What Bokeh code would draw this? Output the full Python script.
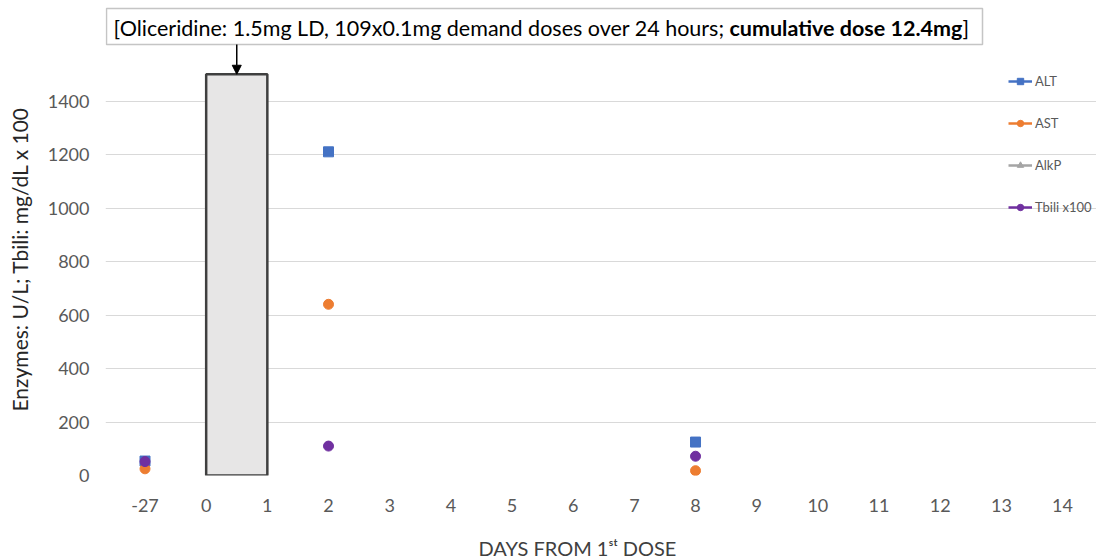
import math
from bokeh.plotting import figure
from bokeh.models import (Range1d, FixedTicker, Label, BoxAnnotation, Arrow,
                          NormalHead, Legend, LegendItem, Title)
from bokeh.embed import file_html
from bokeh.resources import INLINE

# ---------------- data ----------------
day_labels = ["-27", "0", "1", "2", "3", "4", "5", "6", "7", "8",
              "9", "10", "11", "12", "13", "14"]
sample_days = ["-27", "2", "8"]
alt = [54, 1210, 125]
ast = [25, 640, 18]
alkp = [float("nan"), float("nan"), float("nan")]
tbili = [52, 110, 72]
dose_start = "0"
dose_end = "1"
dose_top = 1500
y_ticks = [0, 200, 400, 600, 800, 1000, 1200, 1400]

idx = {d: i for i, d in enumerate(day_labels)}
xs = [idx[d] for d in sample_days]

# ---------------- layout helpers (canvas px -> data) ----------------
W, H = 1096, 559
FL, FB = 105, 475                # frame left / bottom in canvas px
X0, DX = 144.5, 61.17            # canvas x of first category, spacing
DY = 0.2675                      # px per y unit


def px2x(px):
    return (px - X0) / DX


def py2y(py):
    return (FB - py) / DY


FONT = "Lato"

p = figure(width=W, height=H, output_backend="svg", toolbar_location=None,
           x_range=Range1d(px2x(FL), px2x(W)), y_range=Range1d(0, py2y(0)),
           min_border_left=FL, min_border_right=0, min_border_top=0,
           min_border_bottom=H - FB)
p.outline_line_color = None
p.background_fill_color = "white"

# axes
p.xaxis.ticker = FixedTicker(ticks=list(range(len(day_labels))))
p.xaxis.major_label_overrides = {i: d for i, d in enumerate(day_labels)}
p.yaxis.ticker = FixedTicker(ticks=y_ticks)
for ax in (p.xaxis, p.yaxis):
    ax.axis_line_color = None
    ax.major_tick_line_color = None
    ax.minor_tick_line_color = None
    ax.major_label_text_font = FONT
    ax.major_label_text_font_size = "18px"
    ax.major_label_text_color = "#595959"
p.xaxis.major_label_standoff = 17
p.yaxis.major_label_standoff = 10
p.xgrid.grid_line_color = None
p.ygrid.grid_line_color = "#D9D9D9"
p.ygrid.grid_line_width = 1

# axis titles (with blank spacer panels between axis and title)
p.add_layout(Title(text=" ", text_font_size="1px", standoff=6), "left")
p.add_layout(Title(text="Enzymes: U/L; Tbili: mg/dL x 100", align="left",
                   offset=FB - 411, text_font=FONT, text_font_size="21px",
                   text_font_style="normal", text_color="#262626", standoff=8),
             "left")
p.add_layout(Title(text=" ", text_font_size="1px", standoff=16), "below")
p.add_layout(Title(text="DAYS FROM 1\u02e2\u1d57 DOSE", align="left",
                   offset=478 - FL, text_font=FONT, text_font_size="20px",
                   text_font_style="normal", text_color="#404040", standoff=0),
             "below")

# dosing period box
p.quad(left=[idx[dose_start]], right=[idx[dose_end]], bottom=[0], top=[dose_top],
       fill_color="#E7E6E6", line_color="#3F3F3F", line_width=2.5)

# series
series = [
    ("ALT", alt, "#4472C4", "square", 10),
    ("AST", ast, "#ED7D31", "circle", 10),
    ("AlkP", alkp, "#A5A5A5", "triangle", 10),
    ("Tbili x100", tbili, "#7030A0", "circle", 10),
]
items = []
for name, vals, col, marker, size in series:
    lr = p.line(x=[xs[0]], y=[vals[0]], line_color=col, line_width=2.5)
    sr = p.scatter(x=xs, y=vals, marker=marker, size=size,
                   fill_color=col, line_color=col)
    items.append(LegendItem(label=name, renderers=[lr, sr]))

legend = Legend(items=items, location=(1008 - FL, FB - 215), orientation="vertical",
                glyph_width=24, glyph_height=16, label_height=16, spacing=26,
                padding=0, margin=0, border_line_color=None,
                background_fill_alpha=0, label_text_font=FONT,
                label_text_font_size="13px", label_text_color="#595959",
                label_standoff=3)
p.add_layout(legend)

# annotation box and arrow
mid = (idx[dose_start] + idx[dose_end]) / 2
p.add_layout(BoxAnnotation(left=px2x(106), right=px2x(982), top=py2y(8),
                           bottom=py2y(44), fill_color="white", fill_alpha=1,
                           line_color="#404040", line_width=1.5))
p.add_layout(Arrow(x_start=mid, y_start=py2y(44), x_end=mid, y_end=dose_top,
                   line_color="black", line_width=1.5,
                   end=NormalHead(size=9, fill_color="black", line_color="black")))

p.add_layout(Label(x=px2x(724), y=py2y(27),
                   text="[Oliceridine: 1.5mg LD, 109x0.1mg demand doses over 24 hours;",
                   text_align="right", text_baseline="middle", text_font=FONT,
                   text_font_size="21.5px", text_color="black"))
p.add_layout(Label(x=px2x(729), y=py2y(27), text="cumulative dose 12.4mg",
                   text_align="left", text_baseline="middle", text_font=FONT,
                   text_font_style="bold", text_font_size="21.5px", text_color="black"))
p.add_layout(Label(x=px2x(962), y=py2y(27), text="]",
                   text_align="left", text_baseline="middle", text_font=FONT,
                   text_font_size="21.5px", text_color="black"))

open("out.html", "w").write(file_html(p, INLINE))
